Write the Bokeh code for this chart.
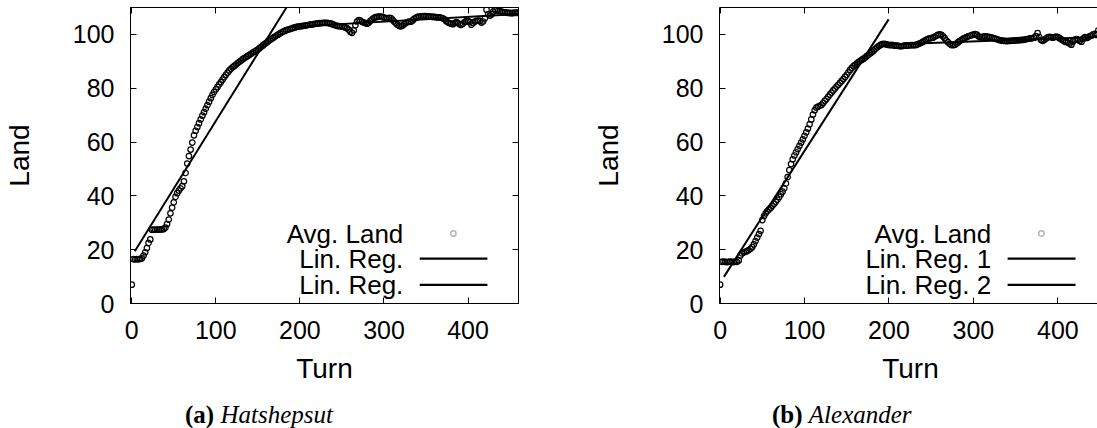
from bokeh.plotting import figure
from bokeh.models import Range1d, FixedTicker, LinearAxis, Label, Arrow, BoxAnnotation, Div
from bokeh.layouts import row, column
from bokeh.embed import file_html
from bokeh.resources import INLINE

# ---------------- data ----------------
turns = list(range(0, 461, 2))

hatshepsut_land = [
    7.0, 16.5, 16.4, 16.5, 16.4, 16.6, 16.8, 17.8, 19.0, 20.6,
    22.5, 23.8, 27.4, 27.5, 27.4, 27.5, 27.4, 27.6, 27.5, 27.7,
    28.2, 29.5, 31.2, 33.5, 35.6, 37.6, 39.6, 41.0, 42.0, 42.8,
    43.6, 45.4, 48.5, 52.0, 54.8, 57.2, 59.8, 62.5, 64.2, 65.6,
    67.0, 68.4, 69.8, 71.1, 72.4, 73.7, 75.0, 76.3, 77.5, 78.6,
    79.6, 80.5, 81.4, 82.3, 83.2, 84.1, 85.0, 85.8, 86.6, 87.2,
    87.8, 88.3, 88.8, 89.3, 89.8, 90.3, 90.8, 91.2, 91.6, 92.0,
    92.4, 92.8, 93.2, 93.6, 94.0, 94.4, 94.9, 95.4, 95.9, 96.4,
    96.9, 97.4, 97.9, 98.3, 98.7, 99.1, 99.5, 99.9, 100.3, 100.7,
    101.0, 101.3, 101.6, 101.8, 102.0, 102.2, 102.4, 102.6, 102.8, 102.9,
    103.0, 103.1, 103.2, 103.3, 103.4, 103.5, 103.6, 103.7, 103.8, 103.9,
    104.0, 104.1, 104.2, 104.2, 104.3, 104.3, 104.3, 104.2, 104.1, 103.9,
    103.6, 103.4, 103.2, 103.1, 103.0, 102.9, 102.8, 102.6, 102.3, 101.8,
    101.0, 100.6, 101.5, 103.4, 104.8, 105.3, 105.1, 104.7, 104.4, 104.2,
    104.0, 104.4, 105.0, 105.6, 106.1, 106.4, 106.5, 106.6, 106.6, 106.5,
    106.3, 106.1, 106.0, 106.2, 106.1, 105.5, 104.8, 104.2, 103.6, 103.2,
    103.0, 103.3, 103.8, 104.3, 104.6, 104.8, 104.7, 105.2, 105.8, 106.2,
    106.5, 106.6, 106.7, 106.7, 106.8, 106.8, 106.7, 106.6, 106.6, 106.5,
    106.5, 106.4, 106.3, 106.3, 106.2, 106.0, 105.6, 105.0, 104.5, 104.2,
    104.0, 103.8, 104.2, 104.6, 104.3, 103.8, 103.5, 104.0, 104.6, 104.9,
    105.0, 104.6, 103.6, 104.2, 104.8, 105.0, 105.1, 105.0, 104.4, 104.8,
    106.0, 109.2, 107.5, 107.0, 107.5, 108.5, 109.2, 109.0, 108.8, 108.6,
    108.5, 108.3, 108.2, 108.1, 108.0, 108.0, 107.9, 108.0, 108.1, 108.0,
    108.1,
]

alexander_land = [
    7.0, 15.5, 15.6, 15.5, 15.4, 15.5, 15.6, 15.5, 15.4, 15.6,
    15.5, 16.0, 17.8, 18.6, 19.0, 19.2, 19.5, 19.8, 20.3, 21.0,
    22.0, 23.2, 24.5, 25.8, 27.0, 31.0, 32.5, 33.5, 34.3, 35.0,
    35.6, 36.3, 37.0, 37.8, 38.6, 39.6, 40.6, 41.6, 42.8, 44.6,
    47.0, 49.6, 51.8, 53.6, 55.0, 56.2, 57.4, 58.6, 59.8, 61.0,
    62.3, 63.6, 65.0, 66.6, 68.4, 70.2, 71.8, 72.8, 73.2, 73.4,
    73.8, 74.5, 75.3, 76.0, 76.8, 77.6, 78.4, 79.2, 79.9, 80.6,
    81.3, 82.0, 82.7, 83.4, 84.2, 85.0, 85.9, 86.8, 87.6, 88.2,
    88.7, 89.2, 89.7, 90.2, 90.6, 91.0, 91.5, 92.0, 92.5, 93.0,
    93.5, 94.0, 94.6, 95.2, 95.7, 96.1, 96.4, 96.5, 96.4, 96.2,
    96.1, 96.0, 96.1, 95.9, 95.8, 95.8, 95.7, 95.6, 95.7, 95.8,
    95.9, 95.8, 95.9, 96.0, 96.0, 96.0, 96.1, 96.3, 96.6, 96.9,
    97.2, 97.6, 98.0, 98.3, 98.5, 98.6, 98.8, 99.1, 99.5, 99.8,
    100.0, 99.8, 99.3, 98.6, 97.8, 97.1, 96.5, 96.1, 96.0, 96.2,
    96.6, 97.1, 97.6, 98.0, 98.4, 98.7, 99.0, 99.3, 99.5, 99.7,
    99.9, 100.1, 99.9, 99.3, 99.0, 99.0, 99.2, 99.3, 99.2, 99.1,
    99.0, 98.8, 98.6, 98.4, 98.2, 98.0, 97.8, 97.7, 97.6, 97.6,
    97.5, 97.6, 97.6, 97.7, 97.7, 97.8, 97.8, 97.9, 97.9, 98.0,
    98.0, 98.2, 98.3, 98.4, 98.5, 98.6, 98.8, 99.4, 100.5, 99.0,
    98.0, 97.6, 97.9, 98.4, 98.9, 99.1, 99.0, 98.8, 99.0, 99.2,
    99.0, 98.6, 98.2, 97.8, 97.4, 97.2, 97.0, 96.6, 96.2, 97.4,
    98.0, 98.3, 98.0, 97.6, 97.3, 98.4, 99.0, 98.7, 98.9, 99.4,
    99.6, 100.0, 100.2, 99.8, 101.5, 99.2, 98.4, 98.0, 97.9, 97.8,
    97.8,
]

# regression lines (end points)
hatshepsut_reg1_x = [3.6, 184.0]
hatshepsut_reg1_y = [19.4, 110.0]
hatshepsut_reg2_x = [190.0, 460.0]
hatshepsut_reg2_y = [102.8, 107.6]

alexander_reg1_x = [4.5, 199.6]
alexander_reg1_y = [9.9, 105.6]
alexander_reg2_x = [194.0, 460.0]
alexander_reg2_y = [96.2, 99.2]

x_ticks = [0, 100, 200, 300, 400]
y_ticks = [0, 20, 40, 60, 80, 100]

legend_a = ["Avg. Land", "Lin. Reg.", "Lin. Reg."]
legend_b = ["Avg. Land", "Lin. Reg. 1", "Lin. Reg. 2"]

caption_a = ("(a)", "Hatshepsut")
caption_b = ("(b)", "Alexander")

FONT = "Liberation Sans"
SERIF = "Liberation Serif"


def mirror_axis(ticks):
    # ticks only (drawn as minor ticks so no labels are produced)
    return LinearAxis(ticker=FixedTicker(ticks=[], minor_ticks=ticks),
                      minor_tick_in=6, minor_tick_out=0,
                      minor_tick_line_color="black", minor_tick_line_width=1,
                      major_tick_line_color=None, major_label_standoff=0,
                      axis_line_color="black")


def make_panel(land, r1x, r1y, r2x, r2y, legend_texts,
               frame_w, xr, border_l, border_r, outline, legend_x):
    p = figure(frame_width=frame_w, frame_height=296,
               x_range=Range1d(*xr), y_range=Range1d(0, 110),
               min_border_left=border_l, min_border_right=border_r,
               min_border_top=7, min_border_bottom=89,
               toolbar_location=None, output_backend="svg",
               background_fill_color="white", border_fill_color="white")
    p.grid.visible = False
    p.outline_line_color = "black" if outline else None
    p.outline_line_width = 1

    for ax in (p.xaxis[0], p.yaxis[0]):
        ax.axis_line_color = "black"
        ax.major_tick_line_color = "black"
        ax.minor_tick_line_color = None
        ax.major_tick_in = 6
        ax.major_tick_out = 0
        ax.major_label_text_font = FONT
        ax.major_label_text_font_size = "25px"
        ax.major_label_text_color = "black"
        ax.axis_label_text_font = FONT
        ax.axis_label_text_font_size = "28px"
        ax.axis_label_text_font_style = "normal"
        ax.axis_label_text_color = "black"
    p.xaxis.ticker = FixedTicker(ticks=x_ticks)
    p.yaxis.ticker = FixedTicker(ticks=y_ticks)
    p.xaxis.axis_label = "Turn"
    p.yaxis.axis_label = "Land"
    p.xaxis.major_label_standoff = 17
    p.xaxis.axis_label_standoff = 11
    p.yaxis.major_label_standoff = 16
    p.yaxis.axis_label_standoff = 35

    p.add_layout(mirror_axis(x_ticks), "above")
    if outline:
        p.add_layout(mirror_axis(y_ticks), "right")

    p.scatter(turns, land, marker="circle", size=5.5, fill_color=None,
              line_color="black", line_width=1.2)
    p.line(r1x, r1y, line_color="black", line_width=2)
    p.line(r2x, r2y, line_color="black", line_width=2)

    # legend (text right aligned, sample to the right, as in gnuplot)
    rows_y = [26.0, 16.7, 6.9]
    for txt, yy in zip(legend_texts, rows_y):
        p.add_layout(Label(x=legend_x, y=yy, text=txt, text_align="right",
                           text_baseline="middle", text_font=FONT,
                           text_font_size="26px", text_color="black"))
    cx = legend_x + 59.5
    p.add_layout(BoxAnnotation(left=cx - 3.2, right=cx + 3.2,
                               bottom=rows_y[0] - 1.05, top=rows_y[0] + 1.05,
                               fill_color=None, line_color="black",
                               line_width=1.5, border_radius=3))
    for yy in rows_y[1:]:
        p.add_layout(Arrow(x_start=legend_x + 19.5, y_start=yy,
                           x_end=legend_x + 100.0, y_end=yy, end=None,
                           line_color="black", line_width=2.2))
    return p


def caption(parts, width, pad_left):
    html = ('<div style="padding-left:%dpx; padding-top:5px; font-family:\'%s\';'
            ' font-size:25px; line-height:25px; color:black; white-space:nowrap;">'
            '<b>%s</b> <i>%s</i></div>' % (pad_left, SERIF, parts[0], parts[1]))
    return Div(text=html, width=width, height=36)


p1 = make_panel(hatshepsut_land, hatshepsut_reg1_x, hatshepsut_reg1_y,
                hatshepsut_reg2_x, hatshepsut_reg2_y, legend_a,
                388, (-1.5, 460), 129, 10, True, 323.0)
p2 = make_panel(alexander_land, alexander_reg1_x, alexander_reg1_y,
                alexander_reg2_x, alexander_reg2_y, legend_b,
                382, (-0.7, 451.7), 182, 0, False, 321.0)

c1 = caption(caption_a, 527, 180)
c2 = caption(caption_b, 564, 230)

layout = row(column(p1, c1), column(p2, c2))
open("out.html", "w").write(file_html(layout, INLINE))
